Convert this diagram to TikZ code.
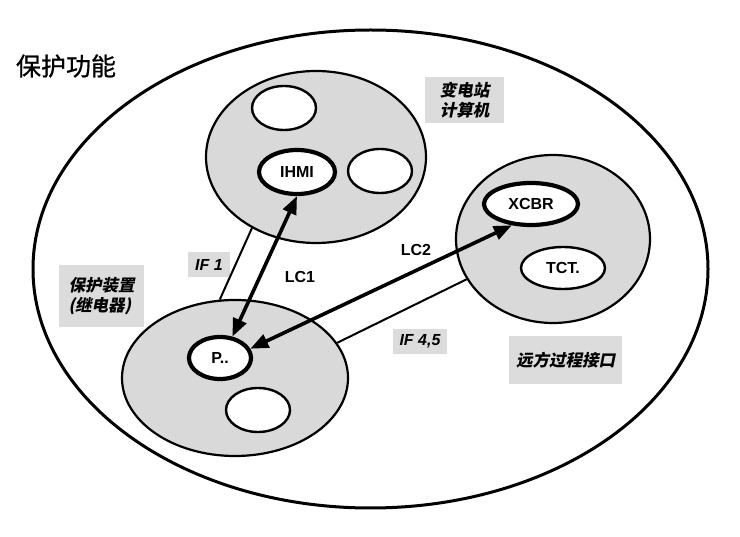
\documentclass[tikz,border=0pt]{standalone}
\usepackage{fontspec}
\setmainfont{Liberation Sans}
\newfontfamily\cjk{Noto Sans CJK SC}[FakeBold=0.8]
\newfontfamily\cjki{Noto Sans CJK SC}[FakeSlant=0.2]
\usetikzlibrary{shapes.geometric,arrows.meta}
\definecolor{grayfill}{HTML}{D9D9D9}
\definecolor{boxfill}{HTML}{DCDCDC}
\begin{document}
\begin{tikzpicture}[x=1pt,y=-1pt,
  outerell/.style={ellipse, draw, line width=3pt, inner sep=0pt},
  grp/.style={ellipse, draw, line width=2.2pt, fill=grayfill, inner sep=0pt},
  subell/.style={ellipse, draw, line width=2.4pt, fill=white, inner sep=0pt,
    minimum width=64pt, minimum height=44pt},
  subthick/.style={ellipse, draw, line width=4.2pt, fill=white, inner sep=0pt,
    font=\bfseries\fontsize{16}{19}\selectfont},
  cjklbl/.style={fill=boxfill, inner sep=0pt, align=left,
    font=\cjki\bfseries\fontsize{16.5}{20}\selectfont},
  iflbl/.style={fill=boxfill, inner sep=0pt,
    font=\bfseries\itshape\fontsize{16}{19}\selectfont},
  lclbl/.style={inner sep=0pt, font=\bfseries\fontsize{16}{19}\selectfont},
  thinline/.style={line width=2pt},
  dblarrow/.style={line width=3.6pt,
    {Triangle[length=18pt,width=14pt]}-{Triangle[length=18pt,width=14pt]}}
]
\useasboundingbox (0,0) rectangle (740,537);

% outer ellipse and title
\node[outerell, minimum width=675pt, minimum height=478pt] (outer) at (370.5,269) {};
\node[inner sep=0pt, font=\cjk\fontsize{25}{30}\selectfont] (title) at (66,66) {保护功能};

% group ellipses
\node[grp, minimum width=220pt, minimum height=172pt] (comp) at (316,157) {};
\node[grp, minimum width=194pt, minimum height=168pt] (remote) at (553,239) {};
\node[grp, minimum width=226pt, minimum height=156pt] (prot) at (235,378) {};

% inner ellipses
\node[subell] (compa) at (284,108) {};
\node[subthick, minimum width=76pt, minimum height=44pt] (ihmi) at (297,172) {IHMI};
\node[subell] (compb) at (380,171) {};
\node[subthick, minimum width=94pt, minimum height=42pt] (xcbr) at (531,204) {XCBR};
\node[subell, minimum width=84pt, minimum height=42pt, font=\bfseries\fontsize{16}{19}\selectfont] (tct) at (563,268) {TCT.};
\node[subthick, minimum width=62pt, minimum height=42pt] (pdev) at (220,358) {P..};
\node[subell] (prota) at (258,410) {};

% labels
\node[cjklbl, minimum width=79pt, minimum height=46pt] (lblcomp) at (464.5,100) {变电站\\计算机};
\node[cjklbl, minimum width=85pt, minimum height=62pt] (lblprot) at (101.5,296) {保护装置\\(继电器)};
\node[cjklbl, minimum width=113pt, minimum height=48pt] (lblremote) at (565.5,360) {远方过程接口};
\node[iflbl, minimum width=42pt, minimum height=25pt] (if1) at (209,264.5) {IF 1};
\node[iflbl, minimum width=54pt, minimum height=25pt] (if45) at (420,341.5) {IF 4,5};
\node[lclbl] (lc1) at (300,277) {LC1};
\node[lclbl] (lc2) at (416,250) {LC2};

% interface lines
\draw[thinline] (prot.101) -- (comp.228);
\draw[thinline] (prot.19.4) -- (remote.205.5);

% logical connections
\draw[dblarrow] (pdev.60) -- (ihmi.south);
\draw[dblarrow] (pdev.17) -- (xcbr.228);
\end{tikzpicture}
\end{document}
